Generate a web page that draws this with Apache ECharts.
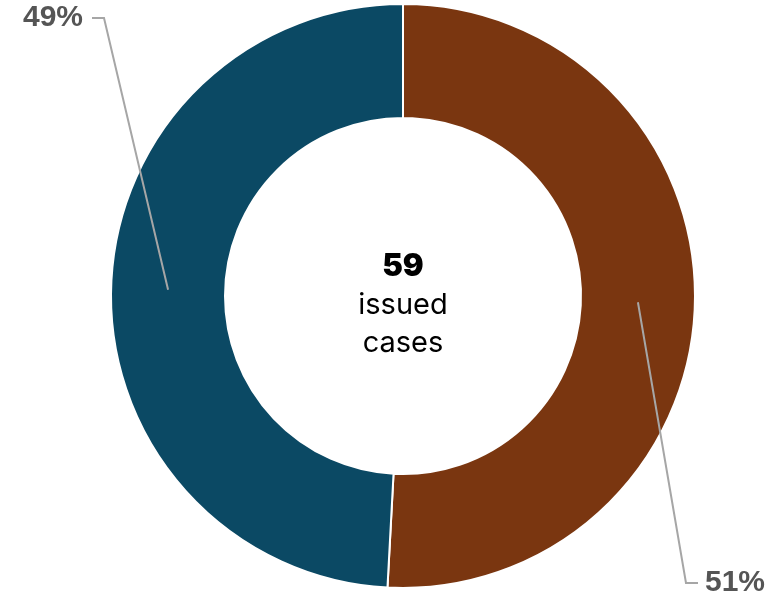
<!DOCTYPE html>
<html>
<head>
<meta charset="utf-8">
<style>
  html, body { margin: 0; padding: 0; background: #ffffff; }
  #chart { width: 778px; height: 597px; }
</style>
<script src="https://cdn.jsdelivr.net/npm/echarts@6/dist/echarts.min.js"></script>
</head>
<body>
<div id="chart"></div>
<script>
// ---- Data ----
const categories = ['Group A', 'Group B'];
const caseCounts = [30, 29];
const sliceColors = ['#7a3610', '#0b4964'];
const totalLabel = '59';
const centerLines = ['issued', 'cases'];

// ---- Layout ----
const CX = 403, CY = 296, R_IN = 178, R_OUT = 292;
const R_MID = (R_IN + R_OUT) / 2;

const chart = echarts.init(document.getElementById('chart'));

const labelSpots = [
  { x: 705, y: 583, align: 'left', bendX: 686, endX: 698 },
  { x: 83, y: 18, align: 'right', bendX: 104, endX: 92 }
];

const pieData = categories.map((c, i) => ({
  name: c,
  value: caseCounts[i],
  itemStyle: { color: sliceColors[i] }
}));

chart.setOption({
  animation: false,
  backgroundColor: '#ffffff',
  series: [{
    type: 'pie',
    z: 2,
    silent: true,
    center: [CX, CY],
    radius: [R_IN, R_OUT],
    startAngle: 90,
    clockwise: true,
    itemStyle: { borderColor: '#ffffff', borderWidth: 2 },
    label: { show: false },
    labelLine: { show: false },
    data: pieData
  }, {
    type: 'pie',
    z: 5,
    silent: true,
    center: [CX, CY],
    radius: [R_IN, R_OUT],
    startAngle: 90,
    clockwise: true,
    percentPrecision: 0,
    itemStyle: { color: 'rgba(0,0,0,0)', borderWidth: 0 },
    label: {
      show: true,
      position: 'outside',
      overflow: 'none',
      formatter: '{d}%',
      fontFamily: '"Liberation Sans", Arial, sans-serif',
      fontWeight: 'bold',
      fontSize: 30,
      color: '#555555'
    },
    labelLine: {
      show: true,
      lineStyle: { color: '#a6a6a6', width: 2 }
    },
    labelLayout: function (params) {
      const spot = labelSpots[params.dataIndex];
      const p0 = params.labelLinePoints ? params.labelLinePoints[0] : [CX, CY];
      const k = R_MID / R_OUT;
      const sx = CX + (p0[0] - CX) * k;
      const sy = CY + (p0[1] - CY) * k;
      return {
        x: spot.x,
        y: spot.y,
        align: spot.align,
        verticalAlign: 'middle',
        labelLinePoints: [[sx, sy], [spot.bendX, spot.y], [spot.endX, spot.y]]
      };
    },
    data: categories.map((c, i) => ({
      name: c,
      value: caseCounts[i],
      itemStyle: { color: 'rgba(0,0,0,0)' }
    }))
  }],
  graphic: [{
    type: 'text',
    x: CX,
    y: CY + 9,
    z: 10,
    style: {
      text: '{a|' + totalLabel + '}\n' + centerLines.map(t => '{b|' + t + '}').join('\n'),
      align: 'center',
      verticalAlign: 'middle',
      rich: {
        a: { fontFamily: 'Inter, Lato, sans-serif', fontWeight: 900, fontSize: 31, lineHeight: 38, fill: '#000000', align: 'center' },
        b: { fontFamily: 'Inter, Lato, sans-serif', fontSize: 29, lineHeight: 38, fill: '#000000', align: 'center' }
      }
    }
  }]
});
</script>
</body>
</html>
